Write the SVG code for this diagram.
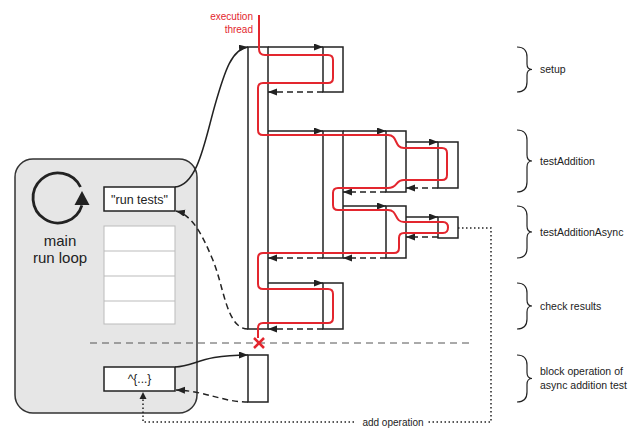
<svg xmlns="http://www.w3.org/2000/svg" width="637" height="445" viewBox="0 0 637 445">
<style>
text{font-family:"Liberation Sans",Arial,sans-serif;fill:#222}
.box{fill:#fff;stroke:#222;stroke-width:1.5}
.col{fill:none;stroke:#222;stroke-width:1.5}
.call{fill:none;stroke:#222;stroke-width:1.5;marker-end:url(#ah)}
.ret{fill:none;stroke:#222;stroke-width:1.5;stroke-dasharray:6,4;marker-end:url(#ah)}
.dot{fill:none;stroke:#222;stroke-width:1.5;stroke-dasharray:1.5,2.5}
.brace{fill:none;stroke:#222;stroke-width:1.2}
.lbl{font-size:10.5px}
.red{fill:#e3262e}
</style>
<defs>
<marker id="ah" markerUnits="userSpaceOnUse" markerWidth="10" markerHeight="8" refX="9" refY="3.5" orient="auto"><path d="M0,0 L9,3.5 L0,7 z" fill="#222"/></marker>
</defs>
<g id="runloop">
<rect x="15" y="159" width="182" height="254" rx="18" ry="18" fill="#e6e6e6" stroke="#333" stroke-width="1.5"/>
<path d="M80.5,187 A25,25 0 1 0 81.9,205.3" fill="none" stroke="#222" stroke-width="2.8"/>
<path d="M74.5,205 L89.5,205 L82,191 z" fill="#222"/>
<text x="60" y="246" font-size="15" text-anchor="middle">main</text>
<text x="60" y="263" font-size="15" text-anchor="middle">run loop</text>
</g>
<g id="queue">
<rect x="104" y="226" width="71" height="98" fill="#fff" stroke="#bbb" stroke-width="1"/>
<line x1="104" y1="251" x2="175" y2="251" stroke="#bbb"/>
<line x1="104" y1="276" x2="175" y2="276" stroke="#bbb"/>
<line x1="104" y1="301" x2="175" y2="301" stroke="#bbb"/>
</g>
<g id="runtests">
<rect class="box" x="104" y="187" width="71" height="24"/>
<text x="139.5" y="203.5" font-size="12.5" text-anchor="middle">"run tests"</text>
</g>
<g id="blockop">
<rect class="box" x="104" y="367" width="71" height="24"/>
<text x="139.5" y="383" font-size="12" text-anchor="middle">^{...}</text>
</g>
<line id="divider" x1="90" y1="343" x2="470" y2="343" stroke="#555" stroke-width="1" stroke-dasharray="7,5"/>
<g id="maincol"><rect class="col" x="248" y="47" width="20" height="282"/></g>
<g id="setupbox"><rect class="col" x="323" y="47" width="20" height="45"/></g>
<g id="testAdditionCol"><rect class="col" x="323" y="131" width="20" height="127"/></g>
<g id="ta1"><rect class="col" x="386" y="131" width="20" height="61"/></g>
<g id="ta2"><rect class="col" x="438" y="142" width="20" height="46"/></g>
<g id="taa1"><rect class="col" x="386" y="206" width="20" height="52"/></g>
<g id="taa2"><rect class="col" x="438" y="217" width="20" height="21"/></g>
<g id="checkbox"><rect class="col" x="323" y="283" width="20" height="46"/></g>
<g id="blockcol"><rect class="col" x="248" y="355" width="20" height="47"/></g>
<g id="connectors">
<path class="call" d="M268,47 L323,47"/>
<path class="ret" d="M323,92 L268,92"/>
<path class="call" d="M268,131 L323,131"/>
<path class="call" d="M343,131 L386,131"/>
<path class="call" d="M406,142 L438,142"/>
<path class="ret" d="M438,188 L406,188"/>
<path class="ret" d="M386,192 L343,192"/>
<path class="call" d="M343,206 L386,206"/>
<path class="call" d="M406,217 L438,217"/>
<path class="ret" d="M438,237 L406,237"/>
<path class="ret" d="M386,258 L343,258"/>
<path class="ret" d="M323,258 L268,258"/>
<path class="call" d="M268,283 L323,283"/>
<path class="ret" d="M323,329 L268,329"/>
<path class="call" d="M175,187 C198,185 205,140 215,105 C225,70 232,49 248,47"/>
<path class="ret" d="M248,329 C226,329 224,285 212,258 C202,234 192,215 176,211"/>
<path class="call" d="M175,367 C196,366 200,355 248,355"/>
<path class="ret" d="M248,402 C222,402 206,391 176,390"/>
<path class="dot" d="M458,228 L491,228 L491,422 L143,422 L143,399"/>
<path d="M143,392 L139.5,399 L146.5,399 z" fill="#222"/>
<rect x="356" y="414" width="72" height="14" fill="#fff"/>
<text x="393" y="425.5" font-size="10" text-anchor="middle">add operation</text>
</g>
<g id="thread">
<text class="red" x="253" y="20" font-size="10" text-anchor="end">execution</text>
<text class="red" x="253" y="33" font-size="10" text-anchor="end">thread</text>
<path fill="none" stroke="#e3262e" stroke-width="2" d="M259,15 L259,49 Q259,55 265,55 L328,55 Q333,55 333,60 L333,78 Q333,83 328,83 L263,83 Q258,83 258,88 L258,130 Q258,135 263,135 L388,135 C398,135 394,148 404,148 L442,148 Q447,148 447,153 L447,175 Q447,180 442,180 L404,180 C395,180 398,188 388,188 L338,188 Q333,188 333,193 L333,205 Q333,210 338,210 L388,210 C398,210 394,222 404,222 L443,222 Q448,222 448,227.5 Q448,233 443,233 L404,233 Q399,233 399,238 L399,248 Q399,253 394,253 L263,253 Q258,253 258,258 L258,284 Q258,289 263,289 L328,289 Q333,289 333,294 L333,318 Q333,323 328,323 L263,323 Q258,323 258,328 L258,338"/>
<path d="M254,338 L264,348 M264,338 L254,348" stroke="#e3262e" stroke-width="2.5" fill="none"/>
</g>
<g id="labels">
<path class="brace" d="M517,47 Q527,47 527,57 L527,64 Q527,69.5 532,69.5 Q527,69.5 527,75 L527,82 Q527,92 517,92"/>
<text class="lbl" x="540" y="73">setup</text>
<path class="brace" d="M517,130 Q527,130 527,140 L527,155 Q527,161 532,161 Q527,161 527,167 L527,182 Q527,192 517,192"/>
<text class="lbl" x="540" y="165">testAddition</text>
<path class="brace" d="M517,206 Q527,206 527,216 L527,226 Q527,232 532,232 Q527,232 527,238 L527,248 Q527,258 517,258"/>
<text class="lbl" x="540" y="236">testAdditionAsync</text>
<path class="brace" d="M517,283 Q527,283 527,293 L527,300 Q527,306 532,306 Q527,306 527,312 L527,319 Q527,329 517,329"/>
<text class="lbl" x="540" y="310">check results</text>
<path class="brace" d="M517,355 Q527,355 527,365 L527,372.5 Q527,378.5 532,378.5 Q527,378.5 527,384.5 L527,392 Q527,402 517,402"/>
<text class="lbl" x="540" y="375">block operation of</text>
<text class="lbl" x="540" y="389">async addition test</text>
</g>
</svg>
